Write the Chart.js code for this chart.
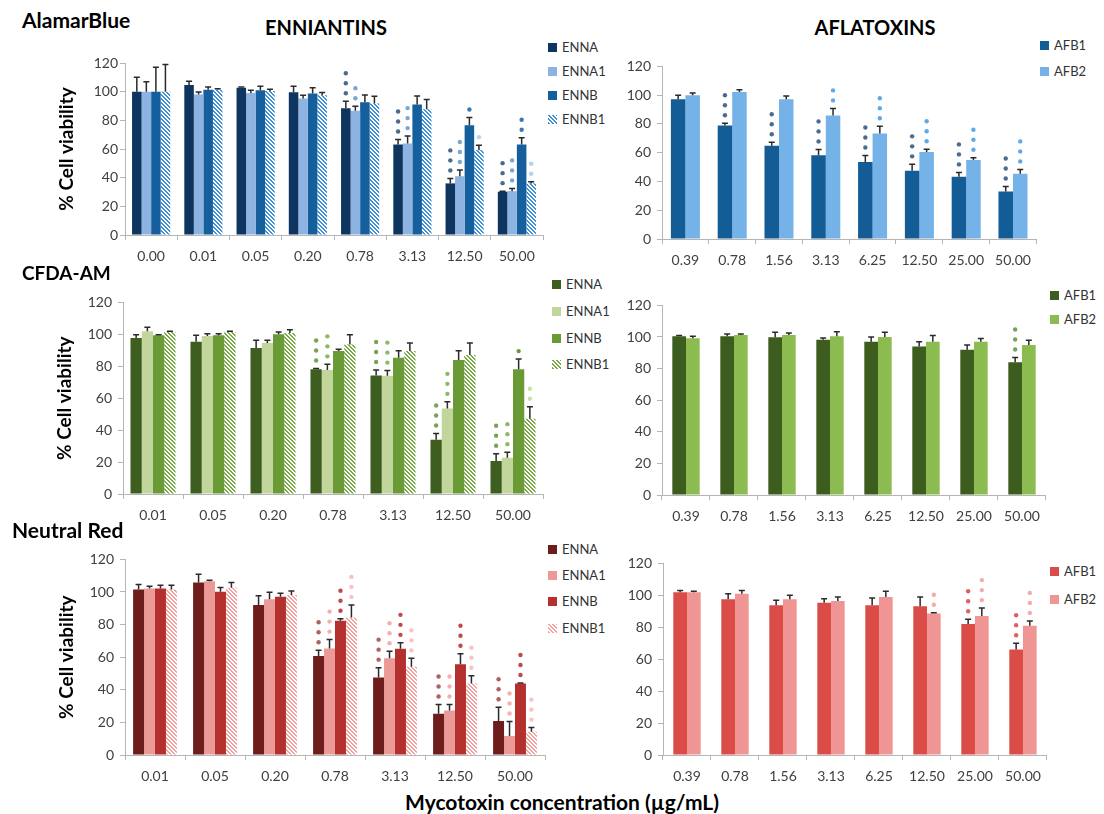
<!DOCTYPE html>
<html>
<head>
<meta charset="utf-8">
<script src="https://cdn.jsdelivr.net/npm/chart.js@4.4.1/dist/chart.umd.min.js"></script>
<style>
html,body{margin:0;padding:0;background:#fff;}
body{width:1104px;height:814px;position:relative;overflow:hidden;font-family:Lato,"Open Sans",sans-serif;}
canvas{position:absolute;}
.ttl{position:absolute;font-weight:bold;color:#000;white-space:nowrap;line-height:24px;height:24px;}
.leg{position:absolute;font-size:13px;color:#333;white-space:nowrap;line-height:16px;height:16px;padding-left:14px;}
.leg i{position:absolute;left:0;top:4px;width:9px;height:9px;}
</style>
</head>
<body>
<script>
// ---------- categories and series names ----------
const abEnnCats = ["0.00","0.01","0.05","0.20","0.78","3.13","12.50","50.00"];
const ennCats   = ["0.01","0.05","0.20","0.78","3.13","12.50","50.00"];
const afbCats   = ["0.39","0.78","1.56","3.13","6.25","12.50","25.00","50.00"];
const ennNames  = ["ENNA","ENNA1","ENNB","ENNB1"];
const afbNames  = ["AFB1","AFB2"];

// ---------- AlamarBlue: enniatins (mean %, SD, significance marks) ----------
const abENNA      = [100, 104.7, 102.8, 99.6, 88.4, 63.1, 36.0, 30.2];
const abENNA_sd   = [10, 2.5, 0.5, 4.2, 4.9, 3.5, 3.5, 0.4];
const abENNA_sig  = [0, 0, 0, 0, 3, 3, 3, 3];
const abENNA1     = [100, 98.0, 99.0, 95.2, 86.6, 63.8, 41.0, 30.6];
const abENNA1_sd  = [7, 1.8, 2.0, 2.3, 3.2, 5.2, 4.3, 1.9];
const abENNA1_sig = [0, 0, 0, 0, 2, 3, 3, 3];
const abENNB      = [100, 101.4, 101.0, 98.7, 92.6, 91.0, 76.6, 63.1];
const abENNB_sd   = [17, 1.9, 2.8, 4.1, 5.1, 6.0, 5.4, 4.7];
const abENNB_sig  = [0, 0, 0, 0, 0, 0, 1, 2];
const abENNB1     = [100, 101.4, 100.5, 97.5, 91.7, 87.7, 59.2, 36.0];
const abENNB1_sd  = [19, 0.6, 1.2, 1.9, 5.1, 6.8, 3.5, 1.1];
const abENNB1_sig = [0, 0, 0, 0, 0, 0, 1, 2];

// ---------- AlamarBlue: aflatoxins ----------
const abAFB1      = [97.2, 78.9, 64.8, 58.2, 53.6, 47.4, 43.3, 33.0];
const abAFB1_sd   = [2.7, 1.6, 2.5, 4.1, 4.5, 4.5, 3.0, 3.5];
const abAFB1_sig  = [0, 3, 3, 3, 3, 3, 3, 3];
const abAFB2      = [99.9, 102.2, 97.2, 85.8, 73.4, 60.4, 55.0, 45.4];
const abAFB2_sd   = [1.6, 1.6, 2.3, 5.0, 5.0, 2.0, 1.5, 3.0];
const abAFB2_sig  = [0, 0, 0, 2, 3, 3, 3, 3];

// ---------- CFDA-AM: enniatins ----------
const cfENNA      = [97.7, 95.3, 91.5, 78.1, 74.2, 34.0, 20.6];
const cfENNA_sd   = [2.1, 4.1, 4.8, 0.5, 3.5, 3.9, 4.6];
const cfENNA_sig  = [0, 0, 0, 3, 3, 3, 3];
const cfENNA1     = [101.9, 99.0, 94.6, 77.7, 74.0, 53.6, 22.7];
const cfENNA1_sd  = [2.6, 1.4, 1.7, 3.5, 3.3, 4.1, 3.5];
const cfENNA1_sig = [0, 0, 0, 3, 3, 3, 3];
const cfENNB      = [99.4, 99.4, 100.0, 89.5, 85.4, 83.9, 78.1];
const cfENNB_sd   = [0.4, 1.0, 1.4, 1.2, 4.3, 5.8, 6.4];
const cfENNB_sig  = [0, 0, 0, 0, 0, 0, 1];
const cfENNB1     = [101.4, 101.4, 100.8, 93.6, 89.5, 87.0, 47.2];
const cfENNB1_sd  = [0.6, 0.5, 2.1, 6.2, 5.1, 7.6, 7.4];
const cfENNB1_sig = [0, 0, 0, 0, 0, 0, 2];

// ---------- CFDA-AM: aflatoxins ----------
const cfAFB1      = [100.5, 100.5, 99.8, 98.2, 97.0, 94.0, 92.0, 84.0];
const cfAFB1_sd   = [0.4, 1.4, 3.2, 1.2, 3.0, 3.0, 3.0, 3.0];
const cfAFB1_sig  = [0, 0, 0, 0, 0, 0, 0, 3];
const cfAFB2      = [99.2, 101.3, 101.3, 100.5, 100.0, 97.0, 97.0, 95.0];
const cfAFB2_sd   = [1.3, 0.6, 1.2, 2.9, 3.0, 4.0, 2.0, 3.0];
const cfAFB2_sig  = [0, 0, 0, 0, 0, 0, 0, 0];

// ---------- Neutral Red: enniatins ----------
const nrENNA      = [101.6, 105.8, 92.1, 60.7, 47.6, 25.3, 20.8];
const nrENNA_sd   = [3.0, 5.1, 5.6, 3.6, 6.0, 5.7, 8.5];
const nrENNA_sig  = [0, 0, 0, 3, 3, 3, 3];
const nrENNA1     = [102.2, 106.6, 95.5, 65.4, 59.3, 27.3, 11.7];
const nrENNA1_sd  = [1.4, 0.6, 4.3, 5.4, 4.4, 3.7, 8.9];
const nrENNA1_sig = [0, 0, 0, 3, 3, 3, 3];
const nrENNB      = [102.2, 100.2, 97.1, 82.4, 65.2, 55.6, 43.9];
const nrENNB_sd   = [2.0, 2.6, 2.1, 1.2, 3.6, 6.5, 0.3];
const nrENNB_sig  = [0, 0, 0, 3, 3, 3, 3];
const nrENNB1     = [101.6, 102.6, 98.1, 84.4, 54.2, 43.9, 14.2];
const nrENNB1_sd  = [2.6, 3.2, 2.5, 7.7, 5.1, 4.7, 2.6];
const nrENNB1_sig = [0, 0, 0, 3, 3, 3, 3];

// ---------- Neutral Red: aflatoxins ----------
const nrAFB1      = [102.0, 97.5, 93.8, 95.3, 93.8, 93.2, 82.0, 66.0];
const nrAFB1_sd   = [1.0, 3.5, 3.1, 2.6, 4.6, 5.8, 3.0, 4.0];
const nrAFB1_sig  = [0, 0, 0, 0, 0, 0, 3, 3];
const nrAFB2      = [102.0, 101.0, 97.5, 96.5, 99.0, 88.7, 87.0, 81.0];
const nrAFB2_sd   = [0.5, 2.0, 2.5, 2.5, 3.5, 0.4, 5.0, 3.0];
const nrAFB2_sig  = [0, 0, 0, 0, 0, 2, 3, 3];

// ---------- drawing helpers ----------
const AXIS = '#b5b5b5';
const TICK = '#404040';

// white tile with diagonal stripes for the *B1 series
function hatchTile(color) {
  const c = document.createElement('canvas');
  c.width = c.height = 4;
  const g = c.getContext('2d');
  g.fillStyle = '#fff'; g.fillRect(0, 0, 4, 4);
  g.fillStyle = color;
  for (let y = 0; y < 4; y++)
    for (let x = 0; x < 4; x++)
      if ((((x - y) % 4) + 4) % 4 < 2) g.fillRect(x, y, 1, 1);
  return c;
}

// upper error whiskers and significance marks above each bar
const errStars = {
  id: 'errStars',
  afterDatasetsDraw(chart) {
    const ctx = chart.ctx, ys = chart.scales.y;
    chart.data.datasets.forEach((ds, i) => {
      chart.getDatasetMeta(i).data.forEach((bar, j) => {
        const yt = ys.getPixelForValue(ds.data[j] + ds.sd[j]);
        const x = bar.x;
        ctx.save();
        ctx.strokeStyle = '#2a2a2a';
        ctx.lineWidth = 1.5;
        ctx.beginPath();
        ctx.moveTo(x, bar.y); ctx.lineTo(x, yt);
        ctx.moveTo(x - 3, yt); ctx.lineTo(x + 3, yt);
        ctx.stroke();
        ctx.fillStyle = ds.sigColor;
        for (let k = 0; k < ds.sig[j]; k++) {
          ctx.beginPath();
          ctx.arc(x, yt - 8 - k * 10, 2.2, 0, Math.PI * 2);
          ctx.fill();
        }
        ctx.restore();
      });
    });
  }
};

function addLegend(x, rows, series) {
  series.forEach((s, k) => {
    const d = document.createElement('div');
    d.className = 'leg';
    d.style.left = x + 'px';
    d.style.top = (rows[k] - 8) + 'px';
    const sw = document.createElement('i');
    if (s.hatch) sw.style.backgroundImage = 'url(' + hatchTile(s.color).toDataURL() + ')';
    else sw.style.background = s.color;
    d.appendChild(sw);
    d.appendChild(document.createTextNode(s.name));
    document.body.appendChild(d);
  });
}

const X_AXIS_H = 32;

function panel(p) {
  const left = p.x0 - p.axisW, top = p.y120 - 12;
  const W = p.x1 + 2 - left, H = p.y0 + X_AXIS_H - top;
  const cv = document.createElement('canvas');
  cv.width = W; cv.height = H;
  cv.style.left = left + 'px'; cv.style.top = top + 'px';
  cv.style.width = W + 'px'; cv.style.height = H + 'px';
  document.body.appendChild(cv);
  const tickFont = { family: 'Lato', size: 14 };
  new Chart(cv, {
    type: 'bar',
    data: {
      labels: p.cats,
      datasets: p.series.map(s => ({
        label: s.name,
        data: s.mean,
        sd: s.sd,
        sig: s.sig,
        sigColor: s.dot,
        backgroundColor: s.hatch
          ? (c => c.chart.ctx.createPattern(hatchTile(s.color), 'repeat'))
          : s.color,
        borderWidth: 0,
        categoryPercentage: p.catPct,
        barPercentage: 1
      }))
    },
    options: {
      responsive: false,
      animation: false,
      devicePixelRatio: 1,
      layout: { padding: { top: 12, right: 2, left: 0, bottom: 0 } },
      plugins: { legend: { display: false }, tooltip: { enabled: false } },
      scales: {
        x: {
          offset: true,
          grid: { display: true, drawOnChartArea: false, drawTicks: true, tickLength: 5, color: AXIS, offset: true },
          border: { display: true, color: AXIS },
          ticks: { font: tickFont, color: TICK, padding: 8, maxRotation: 0, autoSkip: false },
          afterFit: s => { s.height = X_AXIS_H; }
        },
        y: {
          min: 0, max: 120,
          ticks: { stepSize: 20, font: tickFont, color: TICK, padding: p.yPad },
          grid: { display: true, drawOnChartArea: false, drawTicks: true, tickLength: 5, color: AXIS },
          border: { display: true, color: AXIS },
          title: {
            display: p.title, text: '% Cell viability', color: '#000',
            font: { family: 'Lato', size: 19, weight: 'bold' },
            padding: { top: 10, bottom: 0 }
          },
          afterFit: s => { s.width = p.axisW; }
        }
      }
    },
    plugins: [errStars]
  });
  addLegend(p.legX, p.legRows, p.series);
}

function ser(names, means, sds, sigs, styles) {
  return names.map((n, k) => Object.assign({ name: n, mean: means[k], sd: sds[k], sig: sigs[k] }, styles[k]));
}

// ---------- colour sets ----------
const blueEnn = [
  { color: '#0e3560', dot: '#4a6a90' },
  { color: '#8db3e2', dot: '#7aa6d6' },
  { color: '#15609c', dot: '#3d78b0' },
  { color: '#3d8fd8', dot: '#b5d3ee', hatch: true }
];
const blueAfb = [
  { color: '#135c95', dot: '#4b6b8f' },
  { color: '#74b2e8', dot: '#5fa8ea' }
];
const greenEnn = [
  { color: '#3d5e1f', dot: '#7aa35a' },
  { color: '#c2d69b', dot: '#8fb86a' },
  { color: '#6a9a35', dot: '#6a9a35' },
  { color: '#77a843', dot: '#c8e0a8', hatch: true }
];
const greenAfb = [
  { color: '#3c5d1e', dot: '#7aa35a' },
  { color: '#8cbc50', dot: '#a8cf7a' }
];
const redEnn = [
  { color: '#6e1c1c', dot: '#b06060' },
  { color: '#ec9a97', dot: '#f4b0ae' },
  { color: '#b3302e', dot: '#c04a4a' },
  { color: '#f2a3a0', dot: '#f8c4c2', hatch: true }
];
const redAfb = [
  { color: '#d94c48', dot: '#e06060' },
  { color: '#ef9593', dot: '#f4aaa8' }
];

// ---------- panels ----------
panel({ x0: 125, x1: 543, y120: 63, y0: 235, axisW: 80, yPad: 2, title: true, catPct: 0.73,
  cats: abEnnCats, legX: 548, legRows: [47, 71, 95, 119],
  series: ser(ennNames, [abENNA, abENNA1, abENNB, abENNB1], [abENNA_sd, abENNA1_sd, abENNB_sd, abENNB1_sd],
              [abENNA_sig, abENNA1_sig, abENNB_sig, abENNB1_sig], blueEnn) });

panel({ x0: 662, x1: 1037, y120: 64, y0: 239, axisW: 50, yPad: 6, title: false, catPct: 0.62,
  cats: afbCats, legX: 1040, legRows: [45, 71],
  series: ser(afbNames, [abAFB1, abAFB2], [abAFB1_sd, abAFB2_sd], [abAFB1_sig, abAFB2_sig], blueAfb) });

panel({ x0: 123, x1: 543, y120: 300, y0: 494, axisW: 80, yPad: 6, title: true, catPct: 0.75,
  cats: ennCats, legX: 552, legRows: [284, 311, 338, 364],
  series: ser(ennNames, [cfENNA, cfENNA1, cfENNB, cfENNB1], [cfENNA_sd, cfENNA1_sd, cfENNB_sd, cfENNB1_sd],
              [cfENNA_sig, cfENNA1_sig, cfENNB_sig, cfENNB1_sig], greenEnn) });

panel({ x0: 662, x1: 1046, y120: 303, y0: 495, axisW: 50, yPad: 6, title: false, catPct: 0.57,
  cats: afbCats, legX: 1050, legRows: [295, 319],
  series: ser(afbNames, [cfAFB1, cfAFB2], [cfAFB1_sd, cfAFB2_sd], [cfAFB1_sig, cfAFB2_sig], greenAfb) });

panel({ x0: 125, x1: 545, y120: 557, y0: 755, axisW: 80, yPad: 6, title: true, catPct: 0.73,
  cats: ennCats, legX: 548, legRows: [549, 575, 601, 628],
  series: ser(ennNames, [nrENNA, nrENNA1, nrENNB, nrENNB1], [nrENNA_sd, nrENNA1_sd, nrENNB_sd, nrENNB1_sd],
              [nrENNA_sig, nrENNA1_sig, nrENNB_sig, nrENNB1_sig], redEnn) });

panel({ x0: 663, x1: 1047, y120: 561, y0: 755, axisW: 50, yPad: 6, title: false, catPct: 0.57,
  cats: afbCats, legX: 1050, legRows: [571, 599],
  series: ser(afbNames, [nrAFB1, nrAFB2], [nrAFB1_sd, nrAFB2_sd], [nrAFB1_sig, nrAFB2_sig], redAfb) });

// ---------- headings ----------
function heading(text, x, y, size, center) {
  const d = document.createElement('div');
  d.className = 'ttl';
  d.textContent = text;
  d.style.fontSize = size + 'px';
  d.style.top = (y - 12) + 'px';
  d.style.left = x + 'px';
  if (center) d.style.transform = 'translateX(-50%)';
  document.body.appendChild(d);
}
heading('AlamarBlue', 22, 20, 21, false);
heading('ENNIANTINS', 326, 27, 20, true);
heading('AFLATOXINS', 875, 27, 20, true);
heading('CFDA-AM', 22, 273, 19, false);
heading('Neutral Red', 12, 530, 21, false);
heading('Mycotoxin concentration (\u00b5g/mL)', 562, 802, 21, true);
</script>
</body>
</html>
